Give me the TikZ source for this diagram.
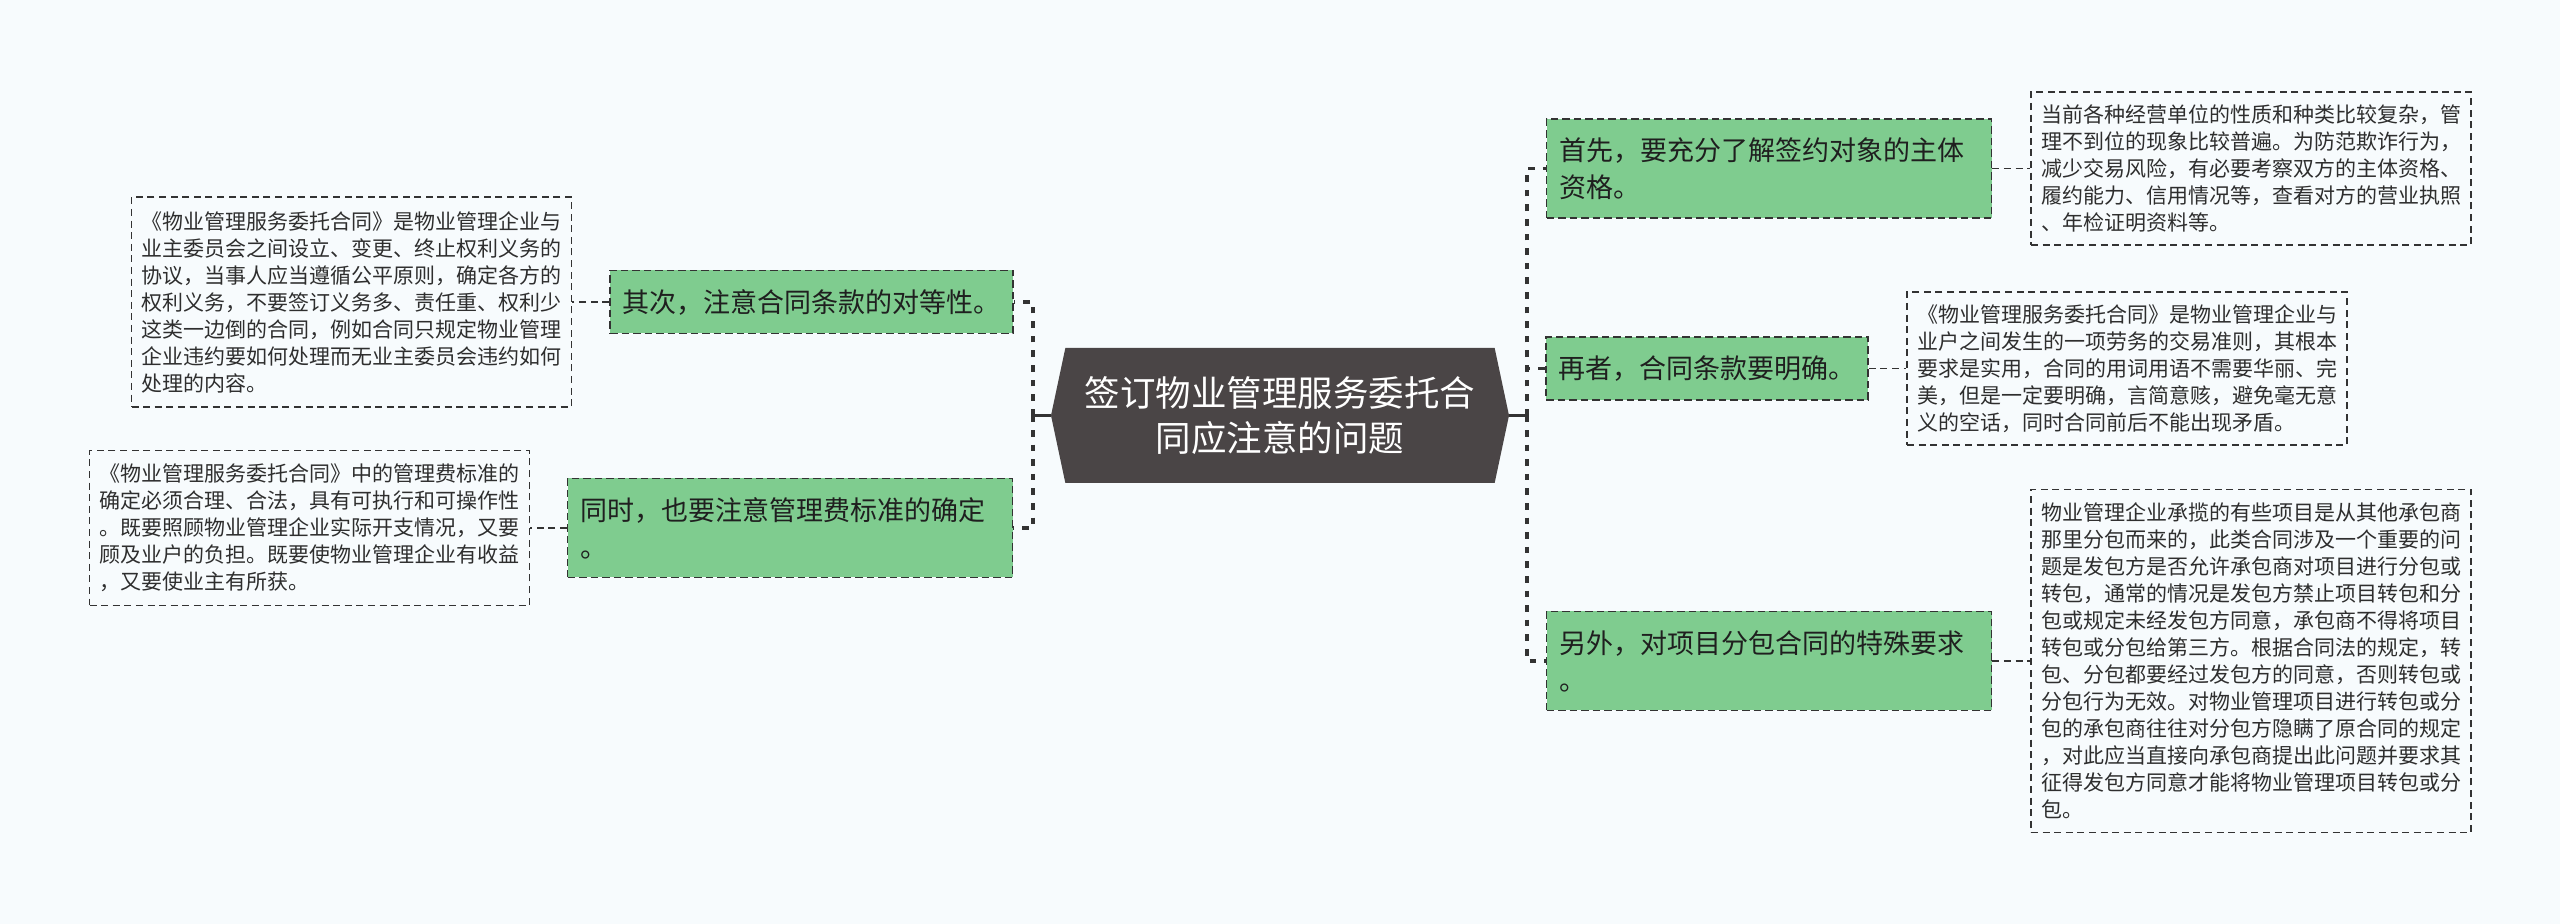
\documentclass[tikz,border=0pt]{standalone}
\usepackage{fontspec}
\setmainfont{Noto Sans CJK SC}
\usetikzlibrary{positioning, shapes.symbols}

\definecolor{bgcol}{HTML}{F7FBFD}
\definecolor{topicgreen}{HTML}{7FCC8F}
\definecolor{rootgray}{HTML}{4A4546}
\definecolor{linegray}{HTML}{333333}

\begin{document}
\begin{tikzpicture}[x=0.5pt,y=-0.5pt,on grid,
  root/.style={shape=signal, signal to=east and west, signal pointer angle=156, fill=rootgray, text=white, minimum width=229pt, minimum height=67.5pt, inner sep=0pt, align=center, font=\fontsize{17.75pt}{22.5pt}\selectfont},
  topic/.style={rectangle, fill=topicgreen, draw=linegray, line width=0.8pt, dash pattern=on 3.75pt off 2pt, inner xsep=6.25pt, inner ysep=2pt, minimum height=31.5pt, align=left, text=black!88, font=\fontsize{13.5pt}{18.5pt}\selectfont},
  leaf/.style={rectangle, draw=linegray, line width=0.7pt, dash pattern=on 3.5pt off 2.3pt, inner xsep=5pt, inner ysep=2pt, text width=210pt, align=left, text=black!82, font=\fontsize{10.5pt}{13.5pt}\selectfont},
  spine/.style={draw=linegray, line width=1.6pt, dash pattern=on 3.3pt off 4pt},
  link/.style={draw=linegray, line width=0.7pt, dash pattern=on 3.5pt off 2.3pt}]

  \fill [bgcol] (0,0) rectangle (2560,924);

  \node (root) [root] at (1280,415.5) {签订物业管理服务委托合\\同应注意的问题};

  % right branches
  \node (t1) [topic, text width=210pt, minimum height=49.5pt] at (1769,168.5) {首先，要充分了解签约对象的主体\\资格。};
  \node (t2) [topic] at (1707,368.5) {再者，合同条款要明确。};
  \node (t3) [topic, text width=210pt, minimum height=49.5pt] at (1769,661) {另外，对项目分包合同的特殊要求\\。};

  % left branches
  \node (t4) [topic] at (811.5,302) {其次，注意合同条款的对等性。};
  \node (t5) [topic, text width=210pt, minimum height=49.5pt] at (790,528) {同时，也要注意管理费标准的确定\\。};

  \node (l1) [leaf, minimum height=76.5pt, right=241pt of t1] {当前各种经营单位的性质和种类比较复杂，管\\理不到位的现象比较普遍。为防范欺诈行为，\\减少交易风险，有必要考察双方的主体资格、\\履约能力、信用情况等，查看对方的营业执照\\、年检证明资料等。};
  \node (l2) [leaf, minimum height=76.5pt, right=210pt of t2] {《物业管理服务委托合同》是物业管理企业与\\业户之间发生的一项劳务的交易准则，其根本\\要求是实用，合同的用词用语不需要华丽、完\\美，但是一定要明确，言简意赅，避免毫无意\\义的空话，同时合同前后不能出现矛盾。};
  \node (l3) [leaf, minimum height=171.5pt, right=241pt of t3] {物业管理企业承揽的有些项目是从其他承包商\\那里分包而来的，此类合同涉及一个重要的问\\题是发包方是否允许承包商对项目进行分包或\\转包，通常的情况是发包方禁止项目转包和分\\包或规定未经发包方同意，承包商不得将项目\\转包或分包给第三方。根据合同法的规定，转\\包、分包都要经过发包方的同意，否则转包或\\分包行为无效。对物业管理项目进行转包或分\\包的承包商往往对分包方隐瞒了原合同的规定\\，对此应当直接向承包商提出此问题并要求其\\征得发包方同意才能将物业管理项目转包或分\\包。};
  \node (l4) [leaf, minimum height=105pt, left=230pt of t4] {《物业管理服务委托合同》是物业管理企业与\\业主委员会之间设立、变更、终止权利义务的\\协议，当事人应当遵循公平原则，确定各方的\\权利义务，不要签订义务多、责任重、权利少\\这类一边倒的合同，例如合同只规定物业管理\\企业违约要如何处理而无业主委员会违约如何\\处理的内容。};
  \node (l5) [leaf, minimum height=77.5pt, left=240.25pt of t5] {《物业管理服务委托合同》中的管理费标准的\\确定必须合理、合法，具有可执行和可操作性\\。既要照顾物业管理企业实际开支情况，又要\\顾及业户的负担。既要使物业管理企业有收益\\，又要使业主有所获。};

  \coordinate (rs) at (1527,415.5);
  \coordinate (ls) at (1033,415.5);

  \draw [linegray, line width=1.6pt] (root.east) -- (rs);
  \draw [linegray, line width=1.6pt] (root.west) -- (ls);

  \path [spine] (rs) |- (t1.west) (rs) |- (t2.west) (rs) |- (t3.west);
  \path [spine] (ls) |- (t4.east) (ls) |- (t5.east);

  \path [link]
  (t1) edge (l1)
  (t2) edge (l2)
  (t3) edge (l3)
  (t4) edge (l4)
  (t5) edge (l5);

\end{tikzpicture}
\end{document}
